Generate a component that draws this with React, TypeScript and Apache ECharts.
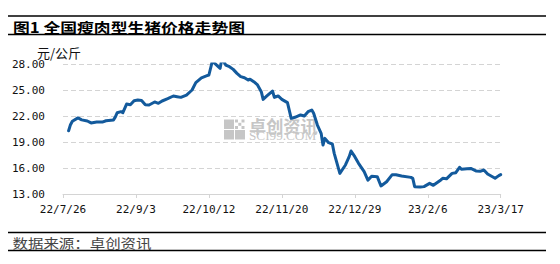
import React, { useEffect, useRef } from 'react';
import * as echarts from 'echarts';

const titleText = '图1 全国瘦肉型生猪价格走势图';
const unitText = '元/公斤';
const sourceText = '数据来源：卓创资讯';

const tickDates = ['2022-07-26', '2022-09-03', '2022-10-12', '2022-11-20', '2022-12-29', '2023-02-06', '2023-03-17'];
const tickLabels = ['22/7/26', '22/9/3', '22/10/12', '22/11/20', '22/12/29', '23/2/6', '23/3/17'];

const priceDates = [
  '2022-07-29', '2022-07-30', '2022-07-31', '2022-08-03', '2022-08-05', '2022-08-08', '2022-08-10', '2022-08-13',
  '2022-08-16', '2022-08-18', '2022-08-22', '2022-08-23', '2022-08-24', '2022-08-26', '2022-08-27', '2022-08-29',
  '2022-08-31', '2022-09-02', '2022-09-04', '2022-09-06', '2022-09-08', '2022-09-10', '2022-09-13', '2022-09-15',
  '2022-09-17', '2022-09-20', '2022-09-23', '2022-09-25', '2022-09-27', '2022-09-30', '2022-10-03', '2022-10-05',
  '2022-10-08', '2022-10-11', '2022-10-12', '2022-10-14', '2022-10-15', '2022-10-18', '2022-10-19', '2022-10-21',
  '2022-10-23', '2022-10-25', '2022-10-27', '2022-10-29', '2022-10-31', '2022-11-02', '2022-11-03', '2022-11-05',
  '2022-11-07', '2022-11-09', '2022-11-10', '2022-11-12', '2022-11-15', '2022-11-16', '2022-11-18', '2022-11-20',
  '2022-11-23', '2022-11-25', '2022-11-27', '2022-11-30', '2022-12-02', '2022-12-04', '2022-12-06', '2022-12-07',
  '2022-12-09', '2022-12-11', '2022-12-12', '2022-12-13', '2022-12-15', '2022-12-17', '2022-12-18', '2022-12-21',
  '2022-12-24', '2022-12-26', '2022-12-27', '2022-12-29', '2022-12-31', '2023-01-03', '2023-01-05', '2023-01-07',
  '2023-01-10', '2023-01-12', '2023-01-15', '2023-01-18', '2023-01-20', '2023-01-23', '2023-01-28', '2023-01-29',
  '2023-01-30', '2023-02-02', '2023-02-04', '2023-02-07', '2023-02-09', '2023-02-13', '2023-02-14', '2023-02-16',
  '2023-02-19', '2023-02-21', '2023-02-23', '2023-02-24', '2023-02-27', '2023-03-01', '2023-03-04', '2023-03-06',
  '2023-03-08', '2023-03-10', '2023-03-14', '2023-03-16', '2023-03-17',
];

const priceValues = [
  20.30, 21.00, 21.40, 21.78, 21.55, 21.42, 21.20, 21.30,
  21.30, 21.45, 21.55, 21.90, 22.38, 22.50, 22.38, 23.38,
  23.30, 23.77, 23.85, 23.80, 23.30, 23.27, 23.62, 23.46,
  23.73, 24.00, 24.31, 24.23, 24.15, 24.42, 25.00, 25.85,
  26.40, 26.65, 26.73, 28.46, 28.10, 27.50, 28.65, 27.88,
  27.69, 27.38, 26.92, 26.54, 26.42, 26.15, 26.25, 25.96,
  25.58, 24.81, 23.92, 24.31, 24.88, 24.15, 24.31, 23.92,
  23.54, 21.73, 21.85, 22.12, 22.00, 22.50, 22.69, 22.31,
  20.96, 20.00, 18.65, 19.42, 18.92, 18.77, 17.69, 15.38,
  16.35, 17.31, 17.96, 17.31, 16.54, 15.58, 14.60, 15.05,
  15.00, 13.93, 14.42, 15.23, 15.23, 15.08, 14.92, 14.80,
  13.85, 13.80, 13.85, 14.23, 14.00, 14.62, 14.81, 14.75,
  15.38, 15.46, 16.08, 15.85, 15.92, 15.95, 15.65, 15.62,
  15.77, 15.30, 14.81, 15.12, 15.23,
];

const yMin = 13;
const yMax = 28;
const yStep = 3;

const DAY = 86400000;
const toTime = (s: string) => {
  const [y, m, d] = s.split('-').map(Number);
  return Date.UTC(y, m - 1, d);
};

const CJK = '"Noto Sans CJK SC", sans-serif';
const MONO = '"DejaVu Sans Mono", monospace';

export default function App() {
  const ref = useRef<HTMLDivElement>(null);

  useEffect(() => {
    if (!ref.current) return;
    const chart = echarts.init(ref.current, null, { renderer: 'svg' });
    const t0 = toTime(tickDates[0]);
    const dayOf = (s: string) => Math.round((toTime(s) - t0) / DAY);
    const tickDays = tickDates.map(dayOf);
    const step = tickDays[1] - tickDays[0];
    const labelFor = (v: number) => {
      const i = tickDays.findIndex((t) => Math.abs(t - v) < 0.5);
      return i >= 0 ? tickLabels[i] : '';
    };
    const wm = '#c6c6c6';

    chart.setOption({
      animation: false,
      grid: { left: 63, right: 59.3, top: 64, bottom: 70, outerBoundsMode: 'none' },
      xAxis: {
        type: 'value',
        min: 0,
        max: tickDays[tickDays.length - 1],
        interval: step,
        axisLine: { show: true, lineStyle: { color: '#d4d4d4', width: 1 } },
        axisTick: { show: true, length: 4, lineStyle: { color: '#d4d4d4' } },
        axisLabel: {
          formatter: labelFor,
          color: '#111',
          fontFamily: MONO,
          fontSize: 11,
          margin: 10,
          showMinLabel: true,
          showMaxLabel: true,
        },
        splitLine: { show: false },
      },
      yAxis: {
        type: 'value',
        min: yMin,
        max: yMax,
        interval: yStep,
        axisLine: { show: false },
        axisTick: { show: false },
        axisLabel: {
          formatter: (v: number) => v.toFixed(2),
          color: '#111',
          fontFamily: MONO,
          fontSize: 11,
          margin: 18,
        },
        splitLine: { show: true, lineStyle: { color: '#d4d4d4', type: [5, 3], width: 1 } },
      },
      graphic: [
        { type: 'line', shape: { x1: 8, y1: 16, x2: 546, y2: 16 }, style: { stroke: '#000', lineWidth: 1.5 } },
        { type: 'line', shape: { x1: 8, y1: 34.5, x2: 546, y2: 34.5 }, style: { stroke: '#000', lineWidth: 1.5 } },
        {
          type: 'text', x: 13, y: 26.5, scaleX: 1.2,
          style: { text: titleText, fontFamily: CJK, fontSize: 14, fontWeight: 'bold', fill: '#000', verticalAlign: 'middle' },
        },
        {
          type: 'text', x: 37, y: 52,
          style: { text: unitText, fontFamily: CJK, fontSize: 13, fill: '#111', verticalAlign: 'middle' },
        },
        { type: 'rect', z: 1, shape: { x: 224, y: 119.5, width: 10, height: 9.5 }, style: { fill: wm } },
        { type: 'rect', z: 1, shape: { x: 224, y: 130, width: 10, height: 9.5 }, style: { fill: wm } },
        { type: 'rect', z: 1, shape: { x: 235, y: 130, width: 10, height: 9.5 }, style: { fill: wm } },
        { type: 'rect', z: 1, shape: { x: 235, y: 119.5, width: 3, height: 3 }, style: { fill: wm } },
        { type: 'rect', z: 1, shape: { x: 241.5, y: 119.5, width: 3, height: 3 }, style: { fill: wm } },
        { type: 'rect', z: 1, shape: { x: 238.3, y: 122.8, width: 3, height: 3 }, style: { fill: wm } },
        { type: 'rect', z: 1, shape: { x: 235, y: 126, width: 3, height: 3 }, style: { fill: wm } },
        { type: 'rect', z: 1, shape: { x: 241.5, y: 126, width: 3, height: 3 }, style: { fill: wm } },
        {
          type: 'text', z: 1, x: 249, y: 125.5, scaleX: 1.04,
          style: { text: '卓创资讯', fontFamily: CJK, fontSize: 16.5, fontWeight: 'bold', fill: wm, verticalAlign: 'middle' },
        },
        {
          type: 'text', z: 1, x: 249, y: 136, scaleX: 1.15,
          style: { text: 'SCI99.COM', fontFamily: '"Liberation Serif", serif', fontSize: 11.5, fill: wm, verticalAlign: 'middle' },
        },
        { type: 'line', shape: { x1: 8, y1: 232.5, x2: 546, y2: 232.5 }, style: { stroke: '#000', lineWidth: 1.5 } },
        { type: 'line', shape: { x1: 8, y1: 250.5, x2: 546, y2: 250.5 }, style: { stroke: '#000', lineWidth: 1.5 } },
        {
          type: 'text', x: 12.5, y: 242, scaleX: 1.19,
          style: { text: sourceText, fontFamily: CJK, fontSize: 13, fill: '#444', verticalAlign: 'middle' },
        },
      ],
      series: [
        {
          type: 'line',
          z: 3,
          data: priceDates.map((d, i) => [dayOf(d), priceValues[i]]),
          showSymbol: false,
          symbol: 'none',
          lineStyle: { color: '#135a9c', width: 3, join: 'round', cap: 'round' },
        },
      ],
    });

    return () => chart.dispose();
  }, []);

  return (
    <div
      ref={ref}
      style={{ position: 'absolute', left: 0, top: 0, width: 560, height: 264, background: '#fff' }}
    />
  );
}
